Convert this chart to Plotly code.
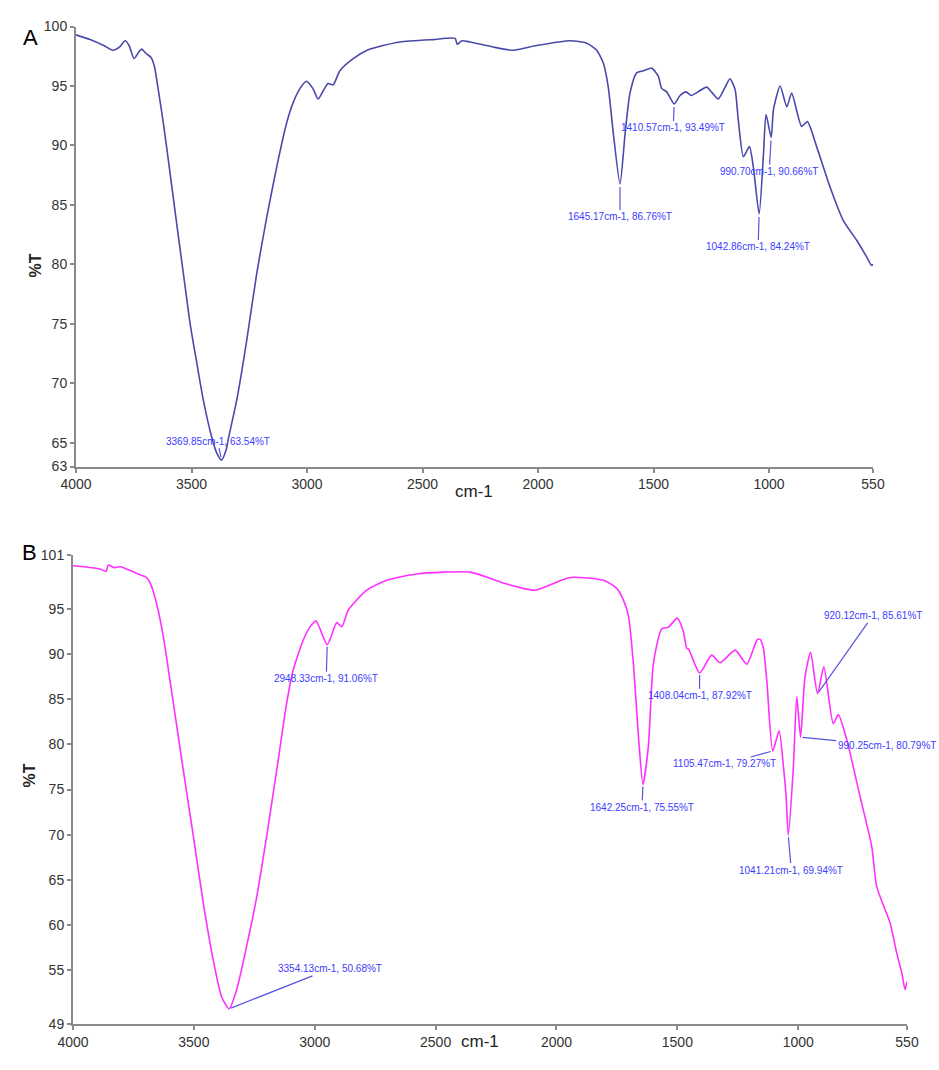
import plotly.graph_objects as go

# ---------------- Data ----------------
wn_A = [4000, 3939, 3880, 3840, 3810, 3788, 3770, 3749, 3730, 3716, 3695, 3675, 3660, 3644, 3622, 3593,
        3564, 3535, 3506, 3477, 3449, 3413, 3390, 3369.85, 3350, 3341, 3304, 3261, 3218, 3174, 3131,
        3088, 3060, 3030, 3003, 2975, 2952, 2930, 2909, 2887, 2857, 2800, 2740, 2671, 2597, 2454, 2359,
        2350, 2330, 2294, 2200, 2108, 2006, 1861, 1789, 1746, 1717, 1696, 1674, 1645.17, 1623, 1602, 1573,
        1540, 1508, 1479, 1465, 1443, 1410.57, 1385, 1359, 1337, 1300, 1270, 1245, 1220, 1190, 1169, 1147,
        1133, 1111, 1085, 1068, 1042.86, 1024, 1013, 990.70, 981, 952, 923, 902, 859, 834, 794, 736, 679,
        620, 577, 556, 550]
T_A = [99.3, 98.9, 98.4, 98.0, 98.3, 98.8, 98.4, 97.3, 97.8, 98.1, 97.7, 97.4, 96.6, 94.7, 91.9, 87.7,
       83.4, 79.2, 75.0, 71.7, 68.6, 65.5, 64.1, 63.54, 64.4, 65.3, 68.6, 73.6, 79.2, 84.0, 88.2,
       91.9, 93.6, 94.8, 95.4, 94.8, 93.9, 94.6, 95.2, 95.1, 96.3, 97.3, 98.0, 98.4, 98.7, 98.9, 99.0,
       98.5, 98.8, 98.7, 98.3, 98.0, 98.4, 98.8, 98.6, 98.0, 96.9, 94.9, 91.0, 86.76, 91.0, 94.4, 96.1,
       96.3, 96.5, 95.8, 94.8, 94.5, 93.49, 94.2, 94.5, 94.2, 94.6, 94.9, 94.4, 93.9, 94.9, 95.6, 94.7,
       92.1, 89.05, 89.9, 88.2, 84.24, 89.3, 92.6, 90.66, 93.0, 95.0, 93.25, 94.4, 91.6, 92.0, 89.9, 86.5, 83.7,
       82.0, 80.6, 79.9, 80.0]

wn_B = [4000, 3888, 3863, 3854, 3830, 3805, 3751, 3723, 3700, 3681, 3654, 3626, 3585, 3544, 3502, 3461,
        3420, 3385, 3354.13, 3323, 3282, 3240, 3199, 3157, 3116, 3089, 3047, 3020, 2995,
        2948.33, 2909, 2888, 2861, 2785, 2702, 2578, 2357, 2220, 2089, 1944, 1806, 1751, 1723, 1702, 1682,
        1661, 1642.25, 1620, 1599, 1565, 1537, 1500, 1475, 1461, 1454, 1408.04, 1358, 1323, 1261, 1213,
        1170, 1158, 1145, 1130, 1105.47, 1079, 1061, 1050, 1041.21, 1020, 1006, 990.25, 972, 949, 920.12, 894,
        855, 834, 799, 744, 696, 675, 620, 592, 571, 558, 550]
T_B = [99.8, 99.45, 99.2, 99.9, 99.6, 99.7, 99.15, 98.8, 98.6, 97.9, 95.6, 91.9, 84.6, 77.2, 69.8, 62.4,
       56.1, 52.0, 50.68, 52.8, 57.6, 63.1, 69.8, 77.2, 84.6, 88.25, 91.6, 93.0, 93.7,
       91.06, 93.5, 93.05, 94.9, 97.1, 98.2, 98.9, 99.1, 97.9, 97.1, 98.5, 98.2, 97.3, 96.0, 94.2, 89.0,
       80.9, 75.55, 79.75, 89.0, 92.8, 93.0, 94.0, 92.5, 90.65, 90.6, 87.92, 89.9, 89.05, 90.45, 88.9,
       91.6, 91.65, 90.8, 87.1, 79.27, 81.5, 77.5, 74.2, 69.94, 77.5, 85.3, 80.79, 87.5, 90.2, 85.61, 88.6,
       82.3, 83.3, 80.5, 74.2, 68.7, 64.2, 60.2, 56.8, 54.6, 52.8, 53.7]

peaks_A_wn = [3369.85, 1645.17, 1410.57, 990.70, 1042.86]
peaks_A_T = [63.54, 86.76, 93.49, 90.66, 84.24]
peaks_A_off = [(-4, -19), (0, 33), (-1, 24), (-2, 34), (-1, 33)]

peaks_B_wn = [3354.13, 2948.33, 1642.25, 1408.04, 1105.47, 1041.21, 990.25, 920.12]
peaks_B_T = [50.68, 91.06, 75.55, 87.92, 79.27, 69.94, 80.79, 85.61]
peaks_B_off = [(101, -40), (-1, 34), (-1, 23), (0, 23), (-48, 13), (3, 35), (86, 8), (55, -78)]

x_ticks = [4000, 3500, 3000, 2500, 2000, 1500, 1000, 550]
y_ticks_A = [63, 65, 70, 75, 80, 85, 90, 95, 100]
y_ticks_B = [49, 55, 60, 65, 70, 75, 80, 85, 90, 95, 101]

# ---------------- Figure ----------------
W, H = 939, 1070
FONT = "Liberation Sans, Arial, sans-serif"
ANN_COLOR = "#3c3cff"
LEADER = "#5555dd"

fig = go.Figure()
fig.add_trace(go.Scatter(x=wn_A, y=T_A, mode="lines", line=dict(color="#4a4aaa", width=1.6, shape="spline", smoothing=0.6),
                         xaxis="x", yaxis="y", hoverinfo="skip", showlegend=False))
fig.add_trace(go.Scatter(x=wn_B, y=T_B, mode="lines", line=dict(color="#ff30ff", width=1.6, shape="spline", smoothing=0.6),
                         xaxis="x2", yaxis="y2", hoverinfo="skip", showlegend=False))


def px_x(p):
    return p / W


def px_y(p):
    return 1 - p / H


axis_common = dict(showgrid=False, zeroline=False, showline=True, linecolor="#8a8a8a", linewidth=2,
                   ticks="outside", ticklen=4, tickwidth=1.5, tickcolor="#8a8a8a", automargin=False,
                   tickfont=dict(family=FONT, size=14, color="#333333"))

fig.update_layout(
    width=W, height=H, margin=dict(l=0, r=0, t=0, b=0, autoexpand=False),
    paper_bgcolor="white", plot_bgcolor="white", showlegend=False,
    xaxis=dict(domain=[px_x(76), px_x(873)], range=[4000, 550], tickvals=x_ticks, anchor="y", **axis_common),
    yaxis=dict(domain=[px_y(466.5), px_y(26.5)], range=[63, 100], tickvals=y_ticks_A, anchor="x", **axis_common),
    xaxis2=dict(domain=[px_x(73), px_x(907)], range=[4000, 550], tickvals=x_ticks, anchor="y2", **axis_common),
    yaxis2=dict(domain=[px_y(1024), px_y(555)], range=[49, 101], tickvals=y_ticks_B, anchor="x2", **axis_common),
)

anns = []
for (w, t, (ax, ay)) in zip(peaks_A_wn, peaks_A_T, peaks_A_off):
    anns.append(dict(x=w, y=t, xref="x", yref="y", ax=ax, ay=ay, axref="pixel", ayref="pixel",
                     text=f"{w:.2f}cm-1, {t:.2f}%T", showarrow=True, arrowhead=0, arrowwidth=1.2,
                     arrowcolor=LEADER, standoff=3, font=dict(family=FONT, size=10, color=ANN_COLOR)))
for (w, t, (ax, ay)) in zip(peaks_B_wn, peaks_B_T, peaks_B_off):
    anns.append(dict(x=w, y=t, xref="x2", yref="y2", ax=ax, ay=ay, axref="pixel", ayref="pixel",
                     text=f"{w:.2f}cm-1, {t:.2f}%T", showarrow=True, arrowhead=0, arrowwidth=1.2,
                     arrowcolor=LEADER, standoff=2, font=dict(family=FONT, size=10, color=ANN_COLOR)))

# Titles and panel labels
anns += [
    dict(x=px_x(21), y=px_y(23), xref="paper", yref="paper", text="A", showarrow=False,
         font=dict(family=FONT, size=22, color="black")),
    dict(x=px_x(20), y=px_y(552), xref="paper", yref="paper", text="B", showarrow=False,
         font=dict(family=FONT, size=22, color="black")),
    dict(x=px_x(474), y=px_y(492), xref="paper", yref="paper", text="cm-1", showarrow=False,
         font=dict(family=FONT, size=17, color="#222222")),
    dict(x=px_x(480), y=px_y(1053), xref="paper", yref="paper", text="cm-1", showarrow=False,
         font=dict(family=FONT, size=17, color="#222222")),
    dict(x=px_x(25), y=px_y(252), xref="paper", yref="paper", text="<b>%T</b>", showarrow=False, textangle=-90,
         font=dict(family=FONT, size=16, color="#222222")),
    dict(x=px_x(18), y=px_y(790), xref="paper", yref="paper", text="<b>%T</b>", showarrow=False, textangle=-90,
         font=dict(family=FONT, size=16, color="#222222")),
]
fig.update_layout(annotations=anns)

fig.write_html("out.html", config={"displayModeBar": False},
               post_script="document.body.style.margin='0';document.body.style.padding='0';")
